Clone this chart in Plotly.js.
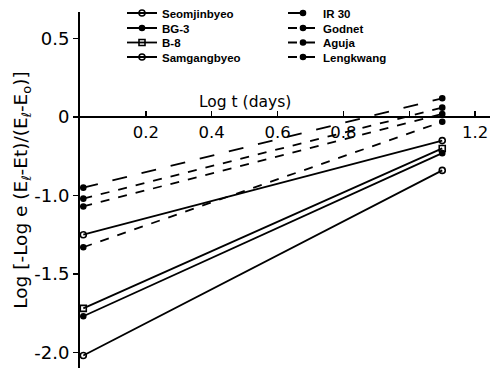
<!DOCTYPE html>
<html>
<head>
<meta charset="utf-8">
<script src="https://cdn.plot.ly/plotly-3.0.1.min.js"></script>
<style>html,body{margin:0;padding:0;background:#fff;}#chart{width:492px;height:371px;}</style>
</head>
<body>
<div id="chart"></div>
<script>
// x: Log t (days) at first and last observation
var logT = [0.01, 1.10];

// y values in axis units (tick labels below map axis positions to printed labels)
var seomjinbyeo = [-1.52, -0.34];
var bg3         = [-1.27, -0.23];
var b8          = [-1.22, -0.20];
var samgangbyeo = [-0.75, -0.15];
var ir30        = [-0.45, 0.12];
var godnet      = [-0.52, 0.06];
var aguja       = [-0.57, 0.02];
var lengkwang   = [-0.83, -0.03];

var yTickVals = [0.5, 0, -0.5, -1.0, -1.5];
var yTickText = ['0.5', '0', '-1.0', '-1.5', '-2.0'];
var xTickVals = [0.2, 0.4, 0.6, 0.8, 1.0, 1.2];
var xTickText = ['0.2', '0.4', '0.6', '0.8', '', '1.2'];

var yRange = [-1.6, 0.67];
var xRange = [0, 1.245];

function tr(name, y, dash, symbol, size, legend) {
  return {
    x: logT, y: y, name: name, type: 'scatter', mode: 'lines+markers',
    line: {color: '#000', width: 1.8, dash: dash},
    marker: {color: '#000', symbol: symbol, size: size, line: {color: '#000', width: 1.6}},
    legend: legend
  };
}

// legend rows: each row pairs a left-column and a right-column entry
var data = [
  tr('Seomjinbyeo', seomjinbyeo, 'solid', 'circle-open', 6, 'legend'),
  tr('IR 30', ir30, 'longdash', 'circle', 5, 'legend'),
  tr('BG-3', bg3, 'solid', 'circle', 5, 'legend2'),
  tr('Godnet', godnet, 'dash', 'circle', 5, 'legend2'),
  tr('B-8', b8, 'solid', 'square-open', 6, 'legend3'),
  tr('Aguja', aguja, 'dash', 'circle', 5, 'legend3'),
  tr('Samgangbyeo', samgangbyeo, 'solid', 'circle-open', 6, 'legend4'),
  tr('Lengkwang', lengkwang, 'dash', 'circle', 5, 'legend4')
];

var zeroPos = (0 - yRange[0]) / (yRange[1] - yRange[0]);
var legFont = {family: 'Liberation Sans, Arial, sans-serif', size: 11.5, color: '#000', weight: 'bold'};
var W = 492, H = 371, plotTop = 12, plotBottom = 3, plotLeft = 80, plotRight = 2;
var plotH = H - plotTop - plotBottom, plotW = W - plotLeft - plotRight;
function rowLegend(centerPx) {
  return {x: (122 - plotLeft) / plotW, y: 1 + (plotTop - centerPx) / plotH,
          xanchor: 'left', yanchor: 'middle',
          orientation: 'h', bgcolor: 'rgba(0,0,0,0)', font: legFont, traceorder: 'normal',
          itemwidth: 30, entrywidth: 116, entrywidthmode: 'pixels'};
}

var layout = {
  width: W, height: H,
  margin: {l: plotLeft, r: plotRight, t: plotTop, b: plotBottom, autoexpand: false},
  paper_bgcolor: '#fff', plot_bgcolor: '#fff',
  font: {family: 'DejaVu Sans, sans-serif', color: '#000'},
  showlegend: true,
  legend: rowLegend(13),
  legend2: rowLegend(28),
  legend3: rowLegend(42.5),
  legend4: rowLegend(57),
  xaxis: {
    range: xRange, anchor: 'free', position: zeroPos, side: 'bottom',
    showgrid: false, zeroline: false, showline: true, linecolor: '#000', linewidth: 2,
    ticks: 'inside', ticklen: 5, tickwidth: 1.5, tickcolor: '#000',
    tickvals: xTickVals, ticktext: xTickText,
    tickfont: {family: 'DejaVu Sans, sans-serif', size: 16.5, color: '#000'}
  },
  yaxis: {
    range: yRange, showgrid: false, zeroline: false, showline: true,
    linecolor: '#000', linewidth: 2,
    ticks: 'outside', ticklen: 5, tickwidth: 1.5, tickcolor: '#000',
    tickvals: yTickVals, ticktext: yTickText,
    tickfont: {family: 'DejaVu Sans, sans-serif', size: 18, color: '#000'},
    title: {text: 'Log [-Log e (E<sub>ℓ</sub>-Et)/(E<sub>ℓ</sub>-E<sub>o</sub>)]',
            font: {family: 'DejaVu Sans, sans-serif', size: 18.5, color: '#000'}, standoff: 2}
  },
  annotations: [{
    x: 0.5, y: 0, xref: 'x', yref: 'y', yanchor: 'bottom', yshift: 4,
    text: 'Log t (days)', showarrow: false,
    font: {family: 'DejaVu Sans, sans-serif', size: 15.5, color: '#000'}
  }]
};

Plotly.newPlot('chart', data, layout, {displayModeBar: false, staticPlot: true});
</script>
</body>
</html>
